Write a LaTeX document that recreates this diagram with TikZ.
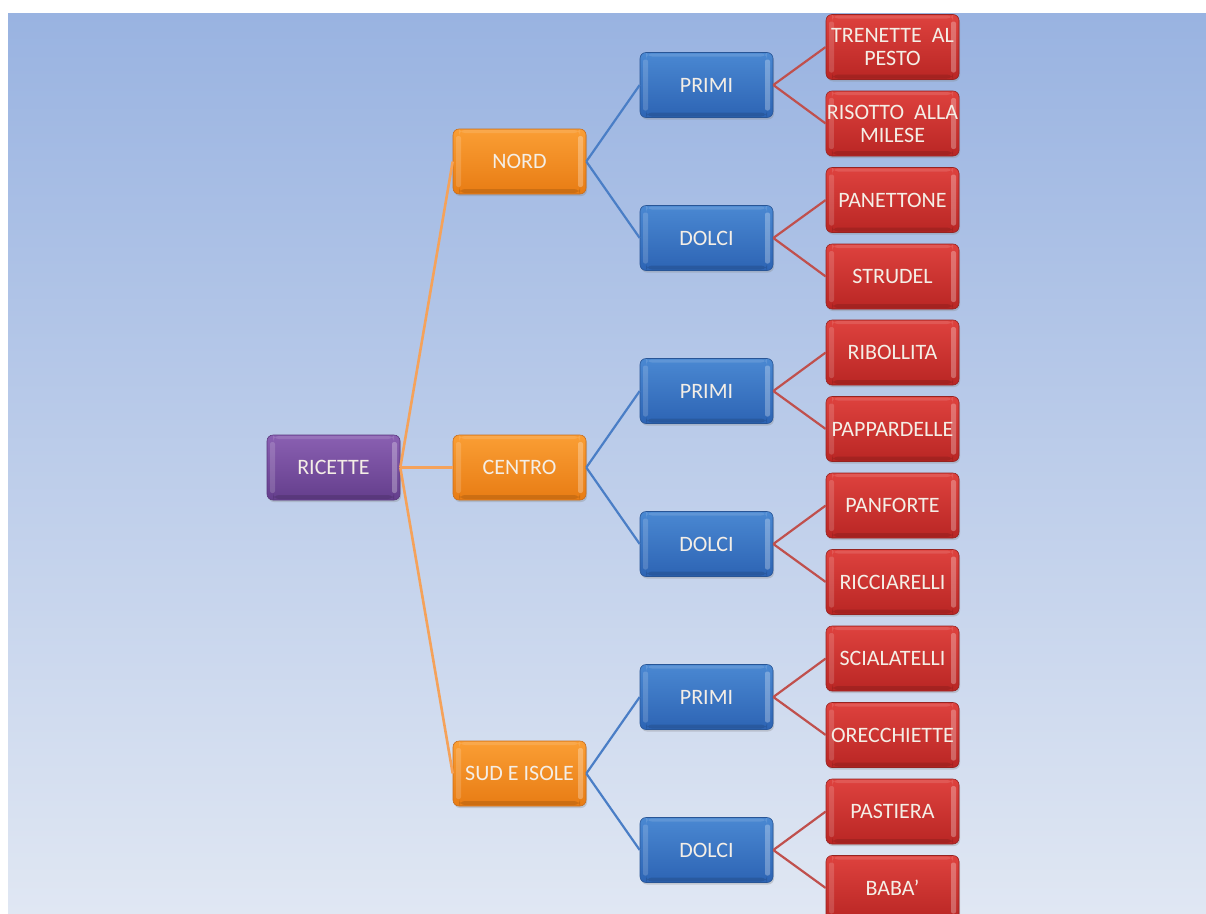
\documentclass[tikz,border=0pt]{standalone}
\usepackage{fontspec}
\setmainfont{Carlito}
\usetikzlibrary{shadows}
\definecolor{bgtop}{HTML}{99B3E1}
\definecolor{bgbot}{HTML}{E0E7F3}
\definecolor{lnorange}{HTML}{F5A25A}
\definecolor{lnblue}{HTML}{4A7EC6}
\definecolor{lnred}{HTML}{C0504D}
\definecolor{txt}{HTML}{F4EEE6}
\tikzset{
  box/.style={rounded corners=6pt, minimum width=133pt, minimum height=65pt,
    inner sep=1pt, align=center, text=txt, font=\fontsize{22}{23}\selectfont,
    drop shadow={shadow xshift=1pt, shadow yshift=-2pt, opacity=0.3},
    path picture={
      \fill[white,opacity=0.16,rounded corners=2pt]
        ([xshift=3pt,yshift=-7pt]path picture bounding box.north west) rectangle
        ([xshift=8pt,yshift=7pt]path picture bounding box.south west);
      \fill[white,opacity=0.28,rounded corners=2pt]
        ([xshift=-8pt,yshift=-7pt]path picture bounding box.north east) rectangle
        ([xshift=-3pt,yshift=7pt]path picture bounding box.south east);
      \fill[white,opacity=0.12]
        ([xshift=6pt,yshift=-1pt]path picture bounding box.north west) rectangle
        ([xshift=-6pt,yshift=-4pt]path picture bounding box.north east);
      \fill[black,opacity=0.12]
        ([xshift=6pt,yshift=1pt]path picture bounding box.south west) rectangle
        ([xshift=-6pt,yshift=5pt]path picture bounding box.south east);
    }},
  rootbox/.style={box, top color={rgb,255:red,138;green,96;blue,178}, bottom color={rgb,255:red,100;green,62;blue,140}, draw={rgb,255:red,90;green,55;blue,125}, line width=0.6pt},
  regbox/.style={box, top color={rgb,255:red,250;green,158;blue,52}, bottom color={rgb,255:red,232;green,124;blue,20}, draw={rgb,255:red,200;green,110;blue,30}, line width=0.6pt},
  catbox/.style={box, top color={rgb,255:red,74;green,136;blue,210}, bottom color={rgb,255:red,45;green,100;blue,180}, draw={rgb,255:red,40;green,85;blue,150}, line width=0.6pt},
  dishbox/.style={box, top color={rgb,255:red,222;green,66;blue,62}, bottom color={rgb,255:red,185;green,38;blue,36}, draw={rgb,255:red,150;green,35;blue,33}, line width=0.6pt},
  orln/.style={draw=lnorange, line width=2.6pt},
  blln/.style={draw=lnblue, line width=2.2pt},
  rdln/.style={draw=lnred, line width=2.2pt},
}
\begin{document}
\begin{tikzpicture}[x=1pt,y=-1pt]
\useasboundingbox (0,0) rectangle (1206,913);
\fill[white] (0,0) rectangle (1206,913);
\shade[top color=bgtop, bottom color=bgbot] (8,13) rectangle (1206,913);

% root
\node[rootbox] (root) at (333.5,467.5) {RICETTE};
% regions
\node[regbox] (nord) at (519.5,161.5) {NORD};
\node[regbox] (centro) at (519.5,467.5) {CENTRO};
\node[regbox] (sud) at (519.5,773.5) {SUD E ISOLE};
% categories
\node[catbox] (p1) at (706.5,85) {PRIMI};
\node[catbox] (d1) at (706.5,238) {DOLCI};
\node[catbox] (p2) at (706.5,391) {PRIMI};
\node[catbox] (d2) at (706.5,544) {DOLCI};
\node[catbox] (p3) at (706.5,697) {PRIMI};
\node[catbox] (d3) at (706.5,850) {DOLCI};
% dishes
\node[dishbox] (r1) at (892.5,47) {TRENETTE~ AL\\PESTO};
\node[dishbox] (r2) at (892.5,123.5) {RISOTTO~ ALLA\\MILESE};
\node[dishbox] (r3) at (892.5,200) {PANETTONE};
\node[dishbox] (r4) at (892.5,276.5) {STRUDEL};
\node[dishbox] (r5) at (892.5,352.5) {RIBOLLITA};
\node[dishbox] (r6) at (892.5,429) {PAPPARDELLE};
\node[dishbox] (r7) at (892.5,505.5) {PANFORTE};
\node[dishbox] (r8) at (892.5,582) {RICCIARELLI};
\node[dishbox] (r9) at (892.5,658.5) {SCIALATELLI};
\node[dishbox] (r10) at (892.5,735) {ORECCHIETTE};
\node[dishbox] (r11) at (892.5,811.5) {PASTIERA};
\node[dishbox] (r12) at (892.5,888) {BABA’};

% connectors
\draw[orln] (root.east) -- (nord.west);
\draw[orln] (root.east) -- (centro.west);
\draw[orln] (root.east) -- (sud.west);
\foreach \a/\b in {nord/p1,nord/d1,centro/p2,centro/d2,sud/p3,sud/d3}
  \draw[blln] (\a.east) -- (\b.west);
\foreach \a/\b in {p1/r1,p1/r2,d1/r3,d1/r4,p2/r5,p2/r6,d2/r7,d2/r8,p3/r9,p3/r10,d3/r11,d3/r12}
  \draw[rdln] (\a.east) -- (\b.west);
\end{tikzpicture}
\end{document}
